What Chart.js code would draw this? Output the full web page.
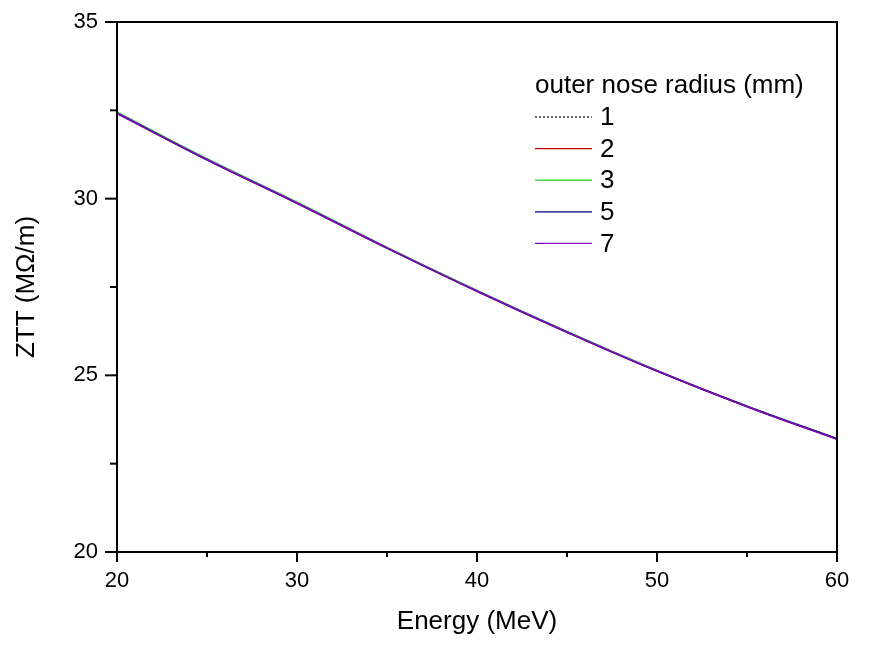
<!DOCTYPE html>
<html>
<head>
<meta charset="utf-8">
<script src="https://cdn.jsdelivr.net/npm/chart.js@4/dist/chart.umd.min.js"></script>
<style>
    html, body { margin: 0; padding: 0; background: #fff; }
    #wrap { width: 879px; height: 648px; }
</style>
</head>
<body>
<div id="wrap"><canvas id="ztt-chart" width="879" height="648"></canvas></div>
<script>
// energy (MeV) and ZTT (MOhm/m) for each outer nose radius
const energy = [20, 25, 30, 35, 40, 45, 50, 55, 60];
const radiusLabels = ['1', '2', '3', '5', '7'];
const ztt_r1 = [32.44, 31.12, 29.89, 28.62, 27.40, 26.24, 25.13, 24.13, 23.21];
const ztt_r2 = [32.43, 31.11, 29.88, 28.61, 27.39, 26.23, 25.13, 24.12, 23.20];
const ztt_r3 = [32.45, 31.13, 29.90, 28.62, 27.40, 26.24, 25.14, 24.13, 23.21];
const ztt_r5 = [32.42, 31.10, 29.87, 28.60, 27.38, 26.22, 25.12, 24.12, 23.20];
const ztt_r7 = [32.41, 31.10, 29.87, 28.60, 27.38, 26.22, 25.12, 24.11, 23.19];
const xMajor = [20, 30, 40, 50, 60];
const xMinor = [25, 35, 45, 55];
const yMajor = [20, 25, 30, 35];
const yMinor = [22.5, 27.5, 32.5];

const seriesValues = [ztt_r1, ztt_r2, ztt_r3, ztt_r5, ztt_r7];
const seriesColors = ['#000000', '#c00000', '#22d022', '#000080', '#8a00c8'];
const seriesDash = [[2, 2], [], [], [], []];

const font = 'Liberation Sans, Arial, sans-serif';

const datasets = seriesValues.map((vals, i) => ({
    label: radiusLabels[i],
    data: energy.map((e, j) => ({ x: e, y: vals[j] })),
    borderColor: seriesColors[i],
    borderWidth: i === 0 ? 1.2 : 1.6,
    borderDash: seriesDash[i],
    pointRadius: 0,
    tension: 0.4,
    fill: false,
    order: seriesValues.length - 1 - i   // last series drawn on top
}));

// frame, outward tick marks and legend
const framePlugin = {
    id: 'frame',
    afterDraw(chart) {
        const ctx = chart.ctx;
        const area = chart.chartArea;
        const xs = chart.scales.x;
        const ys = chart.scales.y;
        ctx.save();
        ctx.strokeStyle = '#000';
        ctx.lineWidth = 2;
        ctx.strokeRect(area.left, area.top, area.right - area.left, area.bottom - area.top);

        const tick = (x1, y1, x2, y2) => {
            ctx.beginPath();
            ctx.moveTo(x1, y1);
            ctx.lineTo(x2, y2);
            ctx.stroke();
        };
        xMajor.forEach(v => { const p = xs.getPixelForValue(v); tick(p, area.bottom, p, area.bottom + 10); });
        xMinor.forEach(v => { const p = xs.getPixelForValue(v); tick(p, area.bottom, p, area.bottom + 5); });
        yMajor.forEach(v => { const p = ys.getPixelForValue(v); tick(area.left, p, area.left - 12, p); });
        yMinor.forEach(v => { const p = ys.getPixelForValue(v); tick(area.left, p, area.left - 7, p); });

        // legend
        ctx.fillStyle = '#000';
        ctx.font = '26px ' + font;
        ctx.textBaseline = 'middle';
        ctx.textAlign = 'left';
        ctx.fillText('outer nose radius (mm)', 535, 86);
        chart.data.datasets.forEach((ds, i) => {
            const y = 117 + i * 31.6;
            ctx.strokeStyle = ds.borderColor;
            ctx.lineWidth = 1.2;
            ctx.setLineDash(ds.borderDash);
            tick(535, y, 592, y);
            ctx.setLineDash([]);
            ctx.fillText(ds.label, 600, y + 1);
        });
        ctx.restore();
    }
};

new Chart(document.getElementById('ztt-chart').getContext('2d'), {
    type: 'line',
    data: { datasets: datasets },
    options: {
        responsive: false,
        animation: false,
        layout: { padding: { top: 22, right: 42, left: 0, bottom: 0 } },
        plugins: { legend: { display: false }, tooltip: { enabled: false } },
        scales: {
            x: {
                type: 'linear',
                min: 20,
                max: 60,
                afterFit: s => { s.height = 96; s.paddingLeft = 0; s.paddingRight = 0; },
                grid: { display: false, drawTicks: false },
                border: { display: false },
                ticks: {
                    stepSize: 10,
                    padding: 16,
                    color: '#000',
                    maxRotation: 0,
                    font: { family: font, size: 22 }
                },
                title: {
                    display: true,
                    text: 'Energy (MeV)',
                    color: '#000',
                    padding: { top: 0, bottom: 11 },
                    font: { family: font, size: 26 }
                }
            },
            y: {
                type: 'linear',
                min: 20,
                max: 35,
                afterFit: s => { s.width = 117; s.paddingTop = 0; s.paddingBottom = 0; },
                grid: { display: false, drawTicks: false },
                border: { display: false },
                ticks: {
                    stepSize: 5,
                    padding: 19,
                    color: '#000',
                    font: { family: font, size: 22 }
                },
                title: {
                    display: true,
                    text: 'ZTT (MΩ/m)',
                    color: '#000',
                    padding: { top: 11, bottom: 0 },
                    font: { family: font, size: 26 }
                }
            }
        }
    },
    plugins: [framePlugin]
});
</script>
</body>
</html>
